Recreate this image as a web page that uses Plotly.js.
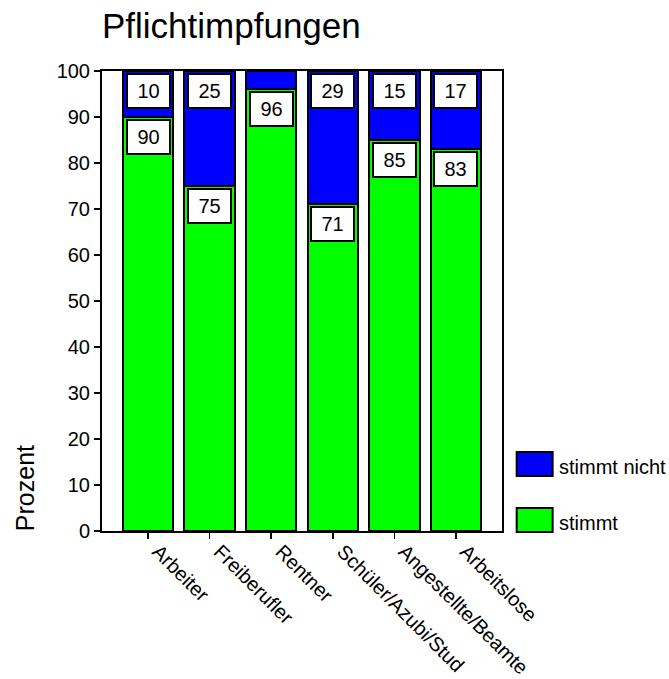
<!DOCTYPE html>
<html>
<head>
<meta charset="utf-8">
<script src="https://cdn.plot.ly/plotly-3.0.1.min.js"></script>
<style>
  html, body { margin: 0; padding: 0; background: #ffffff; }
  #chart { width: 669px; height: 679px; }
</style>
</head>
<body>
<div id="chart"></div>
<script>
// Survey answers per occupational group, in percent
const categories = ['Arbeiter', 'Freiberufler', 'Rentner', 'Schüler/Azubi/Stud', 'Angestellte/Beamte', 'Arbeitslose'];
const stimmt = [90, 75, 96, 71, 85, 83];
const stimmtNicht = [10, 25, 4, 29, 15, 17];
const seriesNames = ['stimmt', 'stimmt nicht'];
const yTicks = [0, 10, 20, 30, 40, 50, 60, 70, 80, 90, 100];

const GREEN = '#00ff00';
const BLUE = '#0000ff';
const FONT = 'Liberation Sans, Arial, Helvetica, sans-serif';
const MIN_LABEL = 10; // segments smaller than this carry no value box

const traces = [
  {
    type: 'bar', name: seriesNames[0], x: categories, y: stimmt,
    marker: { color: GREEN, line: { color: '#000000', width: 2 } },
    hoverinfo: 'x+y+name', showlegend: false
  },
  {
    type: 'bar', name: seriesNames[1], x: categories, y: stimmtNicht,
    marker: { color: BLUE, line: { color: '#000000', width: 2 } },
    hoverinfo: 'x+y+name', showlegend: false
  }
];

// Boxed value labels, hung from the top edge of every segment
const valueBox = (x, yTop, value) => ({
  x: x, y: yTop, xref: 'x', yref: 'y',
  text: String(value), showarrow: false,
  xanchor: 'center', yanchor: 'top', yshift: -2,
  width: 41, height: 32, borderpad: 0, borderwidth: 2,
  bordercolor: '#000000', bgcolor: '#ffffff',
  font: { family: FONT, size: 20, color: '#000000' }
});

const annotations = [];
categories.forEach((c, i) => {
  if (stimmt[i] >= MIN_LABEL) annotations.push(valueBox(c, stimmt[i], stimmt[i]));
  if (stimmtNicht[i] >= MIN_LABEL) annotations.push(valueBox(c, stimmt[i] + stimmtNicht[i], stimmtNicht[i]));
});

// Axis title, set low beside the value axis
annotations.push({
  text: 'Prozent', xref: 'paper', yref: 'paper', x: -0.194, y: 0.094,
  textangle: -90, showarrow: false, xanchor: 'center', yanchor: 'middle',
  font: { family: FONT, size: 25, color: '#000000' }
});

// Legend: swatches and their names to the right of the plot
const legendItems = [
  { name: seriesNames[1], color: BLUE, y0: 0.1196, y1: 0.1717, ty: 0.139 },
  { name: seriesNames[0], color: GREEN, y0: -0.002, y1: 0.05, ty: 0.0174 }
];
const shapes = legendItems.map(it => ({
  type: 'rect', xref: 'paper', yref: 'paper',
  x0: 1.0367, x1: 1.1266, y0: it.y0, y1: it.y1,
  fillcolor: it.color, line: { color: '#000000', width: 2 }
}));
legendItems.forEach(it => annotations.push({
  text: it.name, xref: 'paper', yref: 'paper', x: 1.1366, y: it.ty,
  showarrow: false, xanchor: 'left', yanchor: 'middle',
  font: { family: FONT, size: 20, color: '#000000' }
}));

const layout = {
  width: 669, height: 679,
  paper_bgcolor: '#ffffff', plot_bgcolor: '#ffffff',
  margin: { l: 102, r: 167, t: 71, b: 148, pad: 0 },
  barmode: 'stack', bargap: 0.18,
  font: { family: FONT, size: 20, color: '#000000' },
  title: {
    text: 'Pflichtimpfungen', xref: 'paper', x: 0.0, xanchor: 'left',
    yref: 'container', y: 0.962, yanchor: 'middle',
    font: { family: FONT, size: 35, color: '#000000' }
  },
  xaxis: {
    type: 'category', range: [-0.75, 5.75],
    showline: true, mirror: true, linecolor: '#000000', linewidth: 2,
    ticks: 'outside', ticklen: 6, tickwidth: 1.5, tickcolor: '#000000',
    tickangle: 45, showgrid: false, zeroline: false,
    ticklabelshift: 10, ticklabelstandoff: -7,
    tickfont: { family: FONT, size: 20, color: '#000000' }
  },
  yaxis: {
    range: [0, 100], tickvals: yTicks, ticktext: yTicks.map(String),
    showline: true, mirror: true, linecolor: '#000000', linewidth: 2,
    ticks: 'outside', ticklen: 6, tickwidth: 1.5, tickcolor: '#000000',
    showgrid: false, zeroline: false,
    tickfont: { family: FONT, size: 20, color: '#000000' }
  },
  showlegend: false,
  shapes: shapes,
  annotations: annotations
};

Plotly.newPlot('chart', traces, layout, { displayModeBar: false, staticPlot: true });
</script>
</body>
</html>
